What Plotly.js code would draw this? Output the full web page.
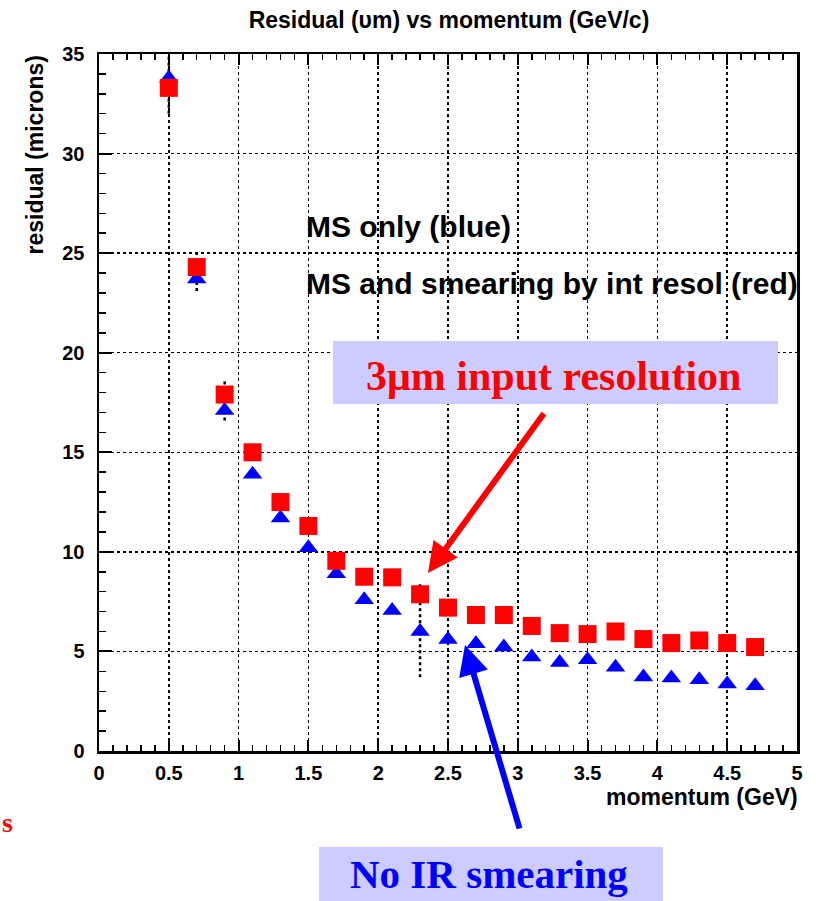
<!DOCTYPE html>
<html>
<head>
<meta charset="utf-8">
<script src="https://cdn.plot.ly/plotly-3.0.1.min.js"></script>
<style>html,body{margin:0;padding:0;background:#fff;}#chart{width:816px;height:901px;}</style>
</head>
<body>
<div id="chart"></div>
<script>
// momentum values (GeV)
const momentum = [0.5,0.7,0.9,1.1,1.3,1.5,1.7,1.9,2.1,2.3,2.5,2.7,2.9,3.1,3.3,3.5,3.7,3.9,4.1,4.3,4.5,4.7];
// MS only (blue)
const msOnly = [33.8,23.7,17.1,13.9,11.7,10.2,8.9,7.6,7.05,6.0,5.6,5.38,5.22,4.72,4.45,4.58,4.2,3.72,3.67,3.58,3.37,3.28];
// MS and smearing by int resol (red)
const msSmear = [33.3,24.3,17.9,15.0,12.5,11.3,9.55,8.75,8.72,7.87,7.2,6.83,6.83,6.28,5.92,5.87,6.0,5.62,5.42,5.55,5.42,5.22];
// visible error bar extents (null = hidden behind marker)
const barLow  = [32.0,23.1,16.6,null,null,null,null,null,null,3.7,null,null,null,null,null,null,null,null,null,null,null,null];
const barHigh = [35.0,25.0,18.6,null,null,null,null,null,null,8.5,null,null,null,null,null,null,null,null,null,null,null,null];

const xTicks = [0,0.5,1,1.5,2,2.5,3,3.5,4,4.5,5];
const yTicks = [0,5,10,15,20,25,30,35];

// build dotted error bar segments from the arrays
const ebX = [], ebY = [];
momentum.forEach((m,i)=>{
  if (barLow[i] !== null) { ebX.push(m,m,null); ebY.push(barLow[i],barHigh[i],null); }
});

const traces = [
  {x: ebX, y: ebY, mode:'lines', line:{color:'black', width:2.5, dash:'dot'}, hoverinfo:'skip', showlegend:false},
  {x: momentum, y: msOnly, mode:'markers', name:'MS only',
   marker:{symbol:'triangle-up', size:17, color:'#0000ff', line:{width:0}}},
  {x: momentum, y: msSmear, mode:'markers', name:'MS and smearing',
   marker:{symbol:'square', size:18, color:'#ff0000', line:{width:0}}}
];

const sans = 'Liberation Sans, Arial, sans-serif';
const serif = 'Liberation Serif, Times New Roman, serif';

const layout = {
  width:816, height:901,
  margin:{l:99, r:19, t:54, b:150},
  paper_bgcolor:'white', plot_bgcolor:'white',
  showlegend:false,
  title:{text:'Residual (υm) vs momentum (GeV/c)', x:449/816, xref:'container', xanchor:'center', y:1-20/901, yref:'container', yanchor:'middle',
         font:{family:sans, size:23, color:'black', weight:'bold'}},
  xaxis:{range:[0,5], tickvals:xTicks, ticktext:xTicks.map(String),
         showline:true, linecolor:'black', linewidth:2.5, mirror:'ticks',
         ticks:'inside', ticklen:11, tickwidth:2, tickcolor:'black',
         minor:{dtick:0.1, ticks:'inside', ticklen:6, tickwidth:1.5, tickcolor:'black', showgrid:false},
         showgrid:true, gridcolor:'black', gridwidth:1.5, griddash:'dot',
         zeroline:false, tickfont:{family:sans, size:20, color:'black', weight:'bold'}, ticklabelstandoff:2},
  yaxis:{range:[0,35], tickvals:yTicks, ticktext:yTicks.map(String),
         showline:true, linecolor:'black', linewidth:2.5, mirror:true,
         ticks:'inside', ticklen:13, tickwidth:2, tickcolor:'black',
         minor:{dtick:1, ticks:'inside', ticklen:7, tickwidth:1.5, tickcolor:'black', showgrid:false},
         showgrid:true, gridcolor:'black', gridwidth:1.5, griddash:'dot',
         zeroline:false, tickfont:{family:sans, size:20, color:'black', weight:'bold'}, ticklabelstandoff:8},
  shapes:[
    {type:'rect', xref:'paper', yref:'paper', x0:(333-99)/698, x1:(778-99)/698, y0:(901-150-404)/697, y1:(901-150-341)/697,
     fillcolor:'#ccccff', line:{width:0}, layer:'above'},
    {type:'rect', xref:'paper', yref:'paper', x0:(319-99)/698, x1:(663-99)/698, y0:(901-150-905)/697, y1:(901-150-847)/697,
     fillcolor:'#ccccff', line:{width:0}, layer:'above'}
  ],
  annotations:[
    {text:'residual (microns)', xref:'paper', yref:'paper', x:(34-99)/698, y:(751-54)/697, xanchor:'center', yanchor:'top',
     textangle:-90, showarrow:false, font:{family:sans, size:23, color:'black', weight:'bold'}},
    {text:'momentum (GeV)', xref:'paper', yref:'paper', x:(800-99)/698, y:(751-797)/697, xanchor:'right', yanchor:'middle',
     showarrow:false, font:{family:sans, size:23, color:'black', weight:'bold'}},
    {text:'<b>MS only (blue)</b>', xref:'paper', yref:'paper', x:(304-99)/698, y:(751-226)/697, xanchor:'left', yanchor:'middle',
     showarrow:false, font:{family:sans, size:30, color:'black'}},
    {text:'<b>MS and smearing by int resol (red)</b>', xref:'paper', yref:'paper', x:(304-99)/698, y:(751-283)/697, xanchor:'left', yanchor:'middle',
     showarrow:false, font:{family:sans, size:30, color:'black'}},
    {text:'<b>3μm input resolution</b>', xref:'paper', yref:'paper', x:(553-99)/698, y:(751-376)/697, xanchor:'center', yanchor:'middle',
     showarrow:false, font:{family:serif, size:42, color:'#ff0000'}},
    {text:'<b>No IR smearing</b>', xref:'paper', yref:'paper', x:(489-99)/698, y:(751-874)/697, xanchor:'center', yanchor:'middle',
     showarrow:false, font:{family:serif, size:41, color:'#0000ff'}},
    {text:'<b>s</b>', xref:'paper', yref:'paper', x:(0-99)/698, y:(751-822)/697, xanchor:'left', yanchor:'middle',
     showarrow:false, font:{family:serif, size:28, color:'#ff0000'}},
    // red arrow
    {xref:'x', yref:'y', x:(428-99)/139.6, y:(751-573)/19.914, ax:117, ay:-161, axref:'pixel', ayref:'pixel', text:'',
     showarrow:true, arrowhead:2, arrowsize:1, arrowwidth:6, arrowcolor:'#ff0000'},
    // blue arrow
    {xref:'x', yref:'y', x:(465-99)/139.6, y:(751-645)/19.914, ax:55, ay:185, axref:'pixel', ayref:'pixel', text:'',
     showarrow:true, arrowhead:2, arrowsize:1, arrowwidth:6, arrowcolor:'#0000ff'}
  ]
};

Plotly.newPlot('chart', traces, layout, {displayModeBar:false, staticPlot:true});
</script>
</body>
</html>
